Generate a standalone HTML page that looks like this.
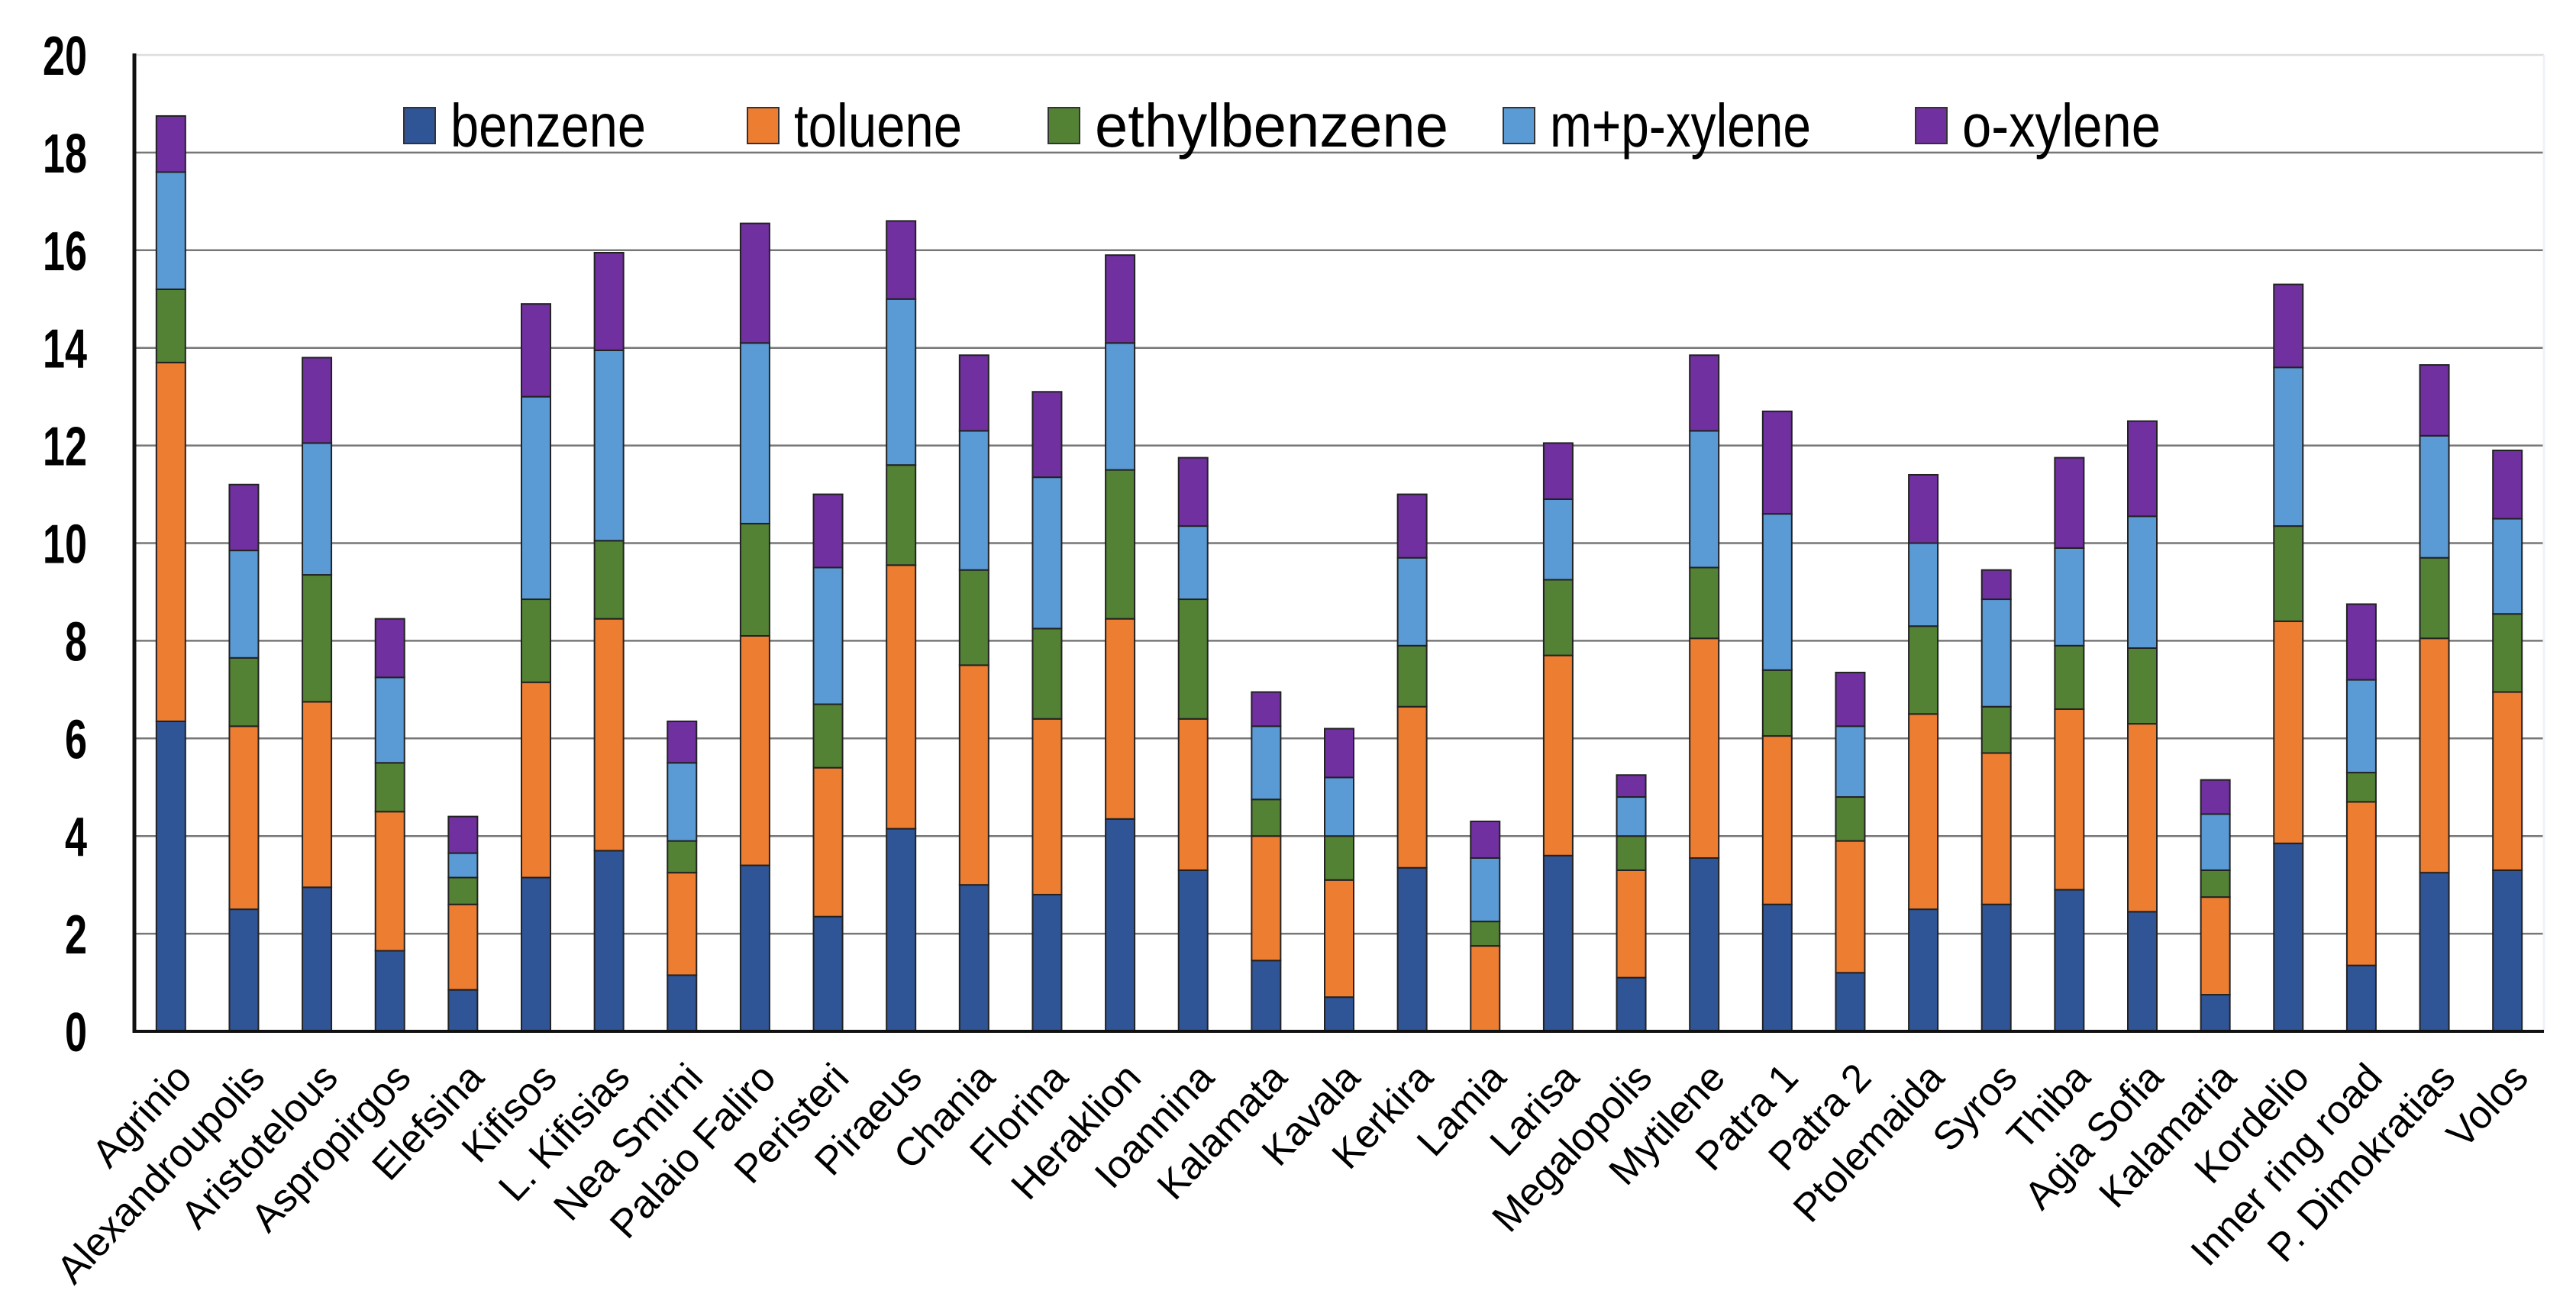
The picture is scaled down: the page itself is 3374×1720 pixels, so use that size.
<!DOCTYPE html>
<html><head><meta charset="utf-8"><style>
html,body{margin:0;padding:0;background:#fff;}
svg{display:block;font-family:"Liberation Sans",Arial,sans-serif;}
</style></head><body>
<svg id="chart" width="3374" height="1720" viewBox="0 0 3374 1720" xmlns="http://www.w3.org/2000/svg">
<g id="grid"></g>
<g id="bars"></g>
<g id="axes"></g>
<g id="legend"></g>
</svg>
<script>
const categories = ["Agrinio","Alexandroupolis","Aristotelous","Aspropirgos","Elefsina","Kifisos","L. Kifisias","Nea Smirni","Palaio Faliro","Peristeri","Piraeus","Chania","Florina","Heraklion","Ioannina","Kalamata","Kavala","Kerkira","Lamia","Larisa","Megalopolis","Mytilene","Patra 1","Patra 2","Ptolemaida","Syros","Thiba","Agia Sofia","Kalamaria","Kordelio","Inner ring road","P. Dimokratias","Volos"];
const seriesNames = ["benzene","toluene","ethylbenzene","m+p-xylene","o-xylene"];
const benzene = [6.35,2.5,2.95,1.65,0.85,3.15,3.7,1.15,3.4,2.35,4.15,3.0,2.8,4.35,3.3,1.45,0.7,3.35,0,3.6,1.1,3.55,2.6,1.2,2.5,2.6,2.9,2.45,0.75,3.85,1.35,3.25,3.3];
const toluene = [7.35,3.75,3.8,2.85,1.75,4.0,4.75,2.1,4.7,3.05,5.4,4.5,3.6,4.1,3.1,2.55,2.4,3.3,1.75,4.1,2.2,4.5,3.45,2.7,4.0,3.1,3.7,3.85,2.0,4.55,3.35,4.8,3.65];
const ethylbenzene = [1.5,1.4,2.6,1.0,0.55,1.7,1.6,0.65,2.3,1.3,2.05,1.95,1.85,3.05,2.45,0.75,0.9,1.25,0.5,1.55,0.7,1.45,1.35,0.9,1.8,0.95,1.3,1.55,0.55,1.95,0.6,1.65,1.6];
const mpXylene = [2.4,2.2,2.7,1.75,0.5,4.15,3.9,1.6,3.7,2.8,3.4,2.85,3.1,2.6,1.5,1.5,1.2,1.8,1.3,1.65,0.8,2.8,3.2,1.45,1.7,2.2,2.0,2.7,1.15,3.25,1.9,2.5,1.95];
const oXylene = [1.15,1.35,1.75,1.2,0.75,1.9,2.0,0.85,2.45,1.5,1.6,1.55,1.75,1.8,1.4,0.7,1.0,1.3,0.75,1.15,0.45,1.55,2.1,1.1,1.4,0.6,1.85,1.95,0.7,1.7,1.55,1.45,1.4];
const yTicks = [0,2,4,6,8,10,12,14,16,18,20];

const NS = "http://www.w3.org/2000/svg";
const colors = ["#2F5597","#ED7D31","#548235","#5B9BD5","#7030A0"];
const series = [benzene,toluene,ethylbenzene,mpXylene,oXylene];
const X0 = 176, X1 = 3332, Y0 = 1351, Y1 = 72, YMAX = 20;
const band = (X1 - X0) / categories.length;
const barW = 38;
function yScale(v){ return Y0 - (v / YMAX) * (Y0 - Y1); }
function xCenter(i){ return X0 + band * (i + 0.5); }
function mk(tag, attrs, parent){ const e = document.createElementNS(NS, tag); for (const k in attrs) e.setAttribute(k, attrs[k]); parent.appendChild(e); return e; }

const grid = document.getElementById('grid');
yTicks.forEach(t => {
  const y = yScale(t);
  const ln = mk('line', {x1:X0, x2:X1, y1:y, y2:y, stroke: t===20 ? '#ddd' : '#777', 'stroke-width':2.5}, grid);
  
  
});
const rb = mk('line', {x1:X1, x2:X1, y1:Y1, y2:Y0, stroke:'#eef2f8', 'stroke-width':3}, grid);



const bars = document.getElementById('bars');
categories.forEach((c, i) => {
  let cum = 0;
  const g = mk('g', {}, bars);
  
  
  series.forEach((s, k) => {
    const v = s[i];
    const yTop = yScale(cum + v), yBot = yScale(cum);
    cum += v;
    if (v <= 0) return;
    const r = mk('rect', {x: xCenter(i) - barW/2, y: yTop, width: barW, height: yBot - yTop, fill: colors[k], stroke:'#222', 'stroke-width':2}, g);
    
    
  });
});

const axes = document.getElementById('axes');
const ya = mk('line', {x1:X0, x2:X0, y1:Y1-2, y2:Y0+2, stroke:'#111', 'stroke-width':5}, axes);


const xa = mk('line', {x1:X0, x2:X1, y1:Y0, y2:Y0, stroke:'#111', 'stroke-width':4}, axes);


yTicks.forEach(t => {
  const s = String(t);
  const tx = mk('text', {x:114, y: yScale(t) + 26, 'text-anchor':'end', 'font-size':72, 'font-weight':'bold', fill:'#000', textLength: s.length * 29, lengthAdjust:'spacingAndGlyphs'}, axes);
  tx.textContent = s;
  
  
});
categories.forEach((c, i) => {
  const x = xCenter(i) + 30, y = 1414;
  const tx = mk('text', {x:x, y:y, 'text-anchor':'end', 'font-size':52, fill:'#000', transform:'rotate(-47 ' + x + ' ' + y + ')'}, axes);
  tx.textContent = c;
  
  
});

const legend = document.getElementById('legend');
const legX = [529, 979, 1373, 1969, 2509];
const legW = [256, 220, 463, 342, 260];
seriesNames.forEach((n, k) => {
  const g = mk('g', {}, legend);
  
  
  const r = mk('rect', {x:legX[k], y:141, width:41, height:47, fill:colors[k], stroke:'#333', 'stroke-width':2}, g);
  
  
  const t = mk('text', {x:legX[k] + 61, y:192, 'font-size':80, fill:'#000', textLength:legW[k], lengthAdjust:'spacingAndGlyphs'}, g);
  t.textContent = n;
  
  
});
</script>
</body></html>
